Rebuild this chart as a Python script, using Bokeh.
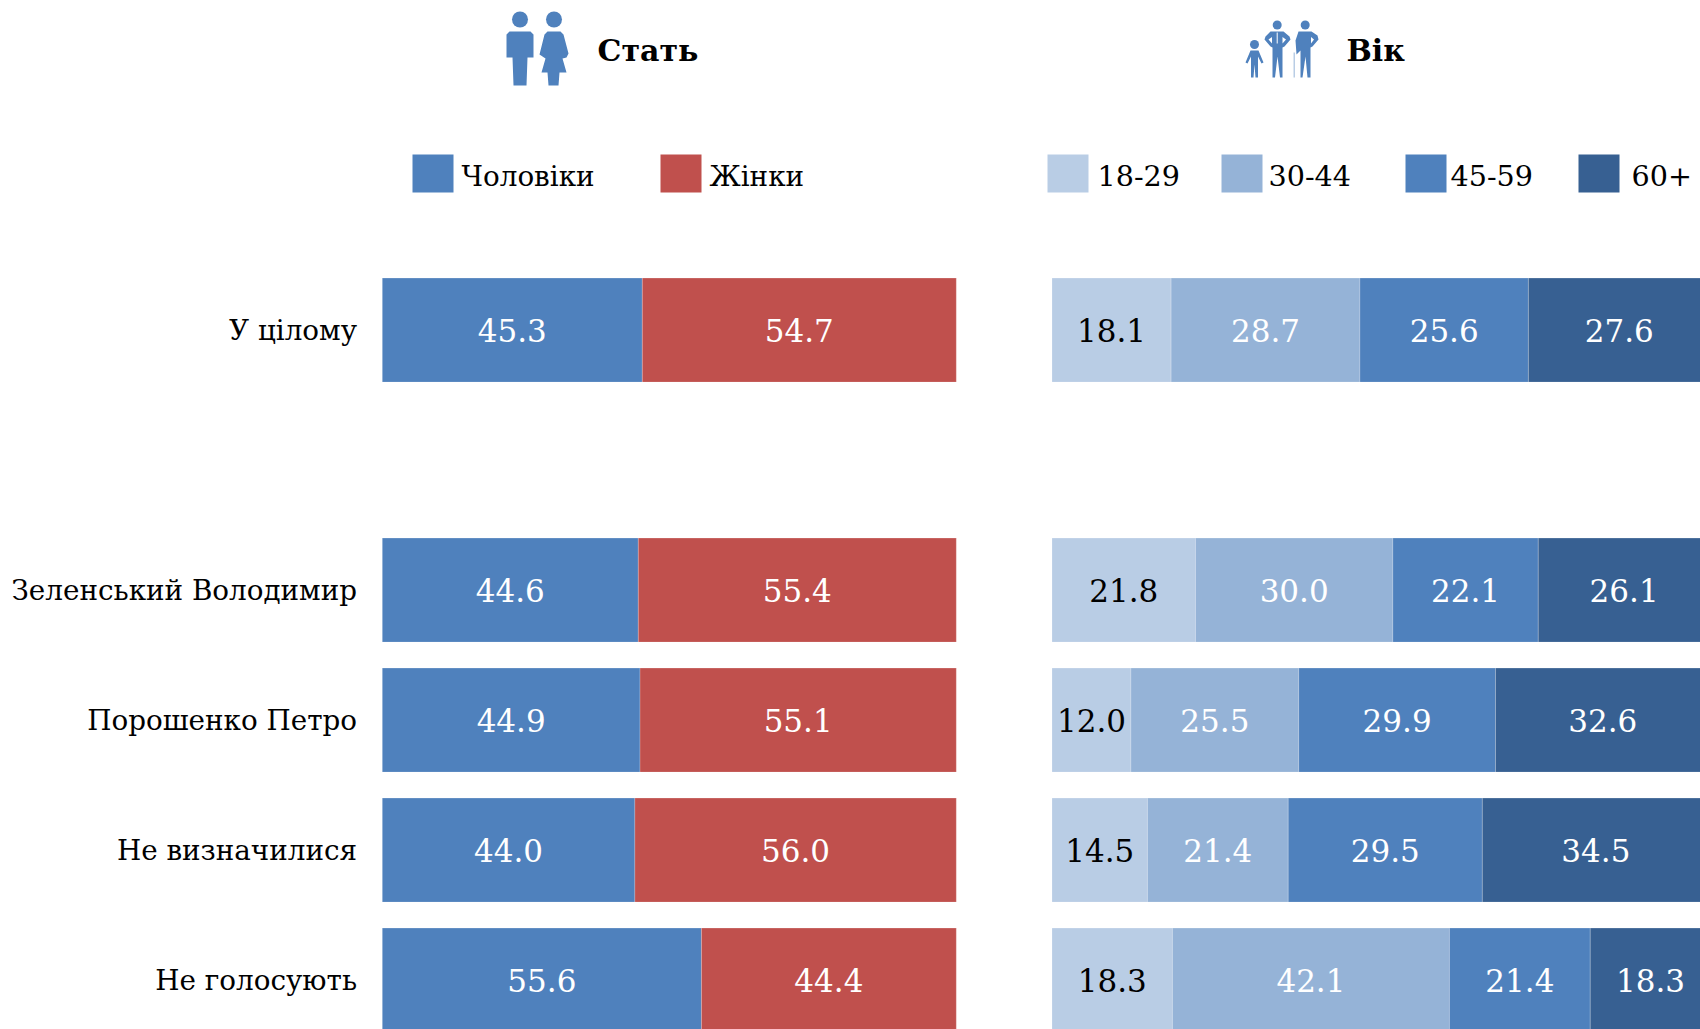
from bokeh.plotting import figure
from bokeh.models import Range1d
from bokeh.core.properties import value
from bokeh.embed import file_html
from bokeh.resources import INLINE

# ---- data ----
rows = ["У цілому", "Зеленський Володимир", "Порошенко Петро", "Не визначилися", "Не голосують"]
row_pos = [0, 2, 3, 4, 5]
men = [45.3, 44.6, 44.9, 44.0, 55.6]
women = [54.7, 55.4, 55.1, 56.0, 44.4]
age_18_29 = [18.1, 21.8, 12.0, 14.5, 18.3]
age_30_44 = [28.7, 30.0, 25.5, 21.4, 42.1]
age_45_59 = [25.6, 22.1, 29.9, 29.5, 21.4]
age_60 = [27.6, 26.1, 32.6, 34.5, 18.3]
gender_names = ["Чоловіки", "Жінки"]
age_names = ["18-29", "30-44", "45-59", "60+"]
titles = ["Стать", "Вік"]

C_MEN, C_WOMEN = "#4F81BD", "#C0504D"
C_AGE = ["#B9CDE5", "#95B3D7", "#4F81BD", "#376092"]
FONT = value("DejaVu Serif")
FS_NUM = "31px"
FS_ROW = "27.8px"
FS_LEG_TXT = "27.8px"
FS_LEG_NUM = "28.6px"
FS_TITLE = "30px"

W, H = 1700, 1029
G_X0, G_SCALE = 381.8, 5.74     # gender bars: page x of 0, px per percent
A_X0, A_SCALE = 1051.5, 6.58    # age bars
ROW0_Y, ROW_STEP = 329.6, 130   # page y of row 0, px per row
BAR_H = 104 / 130

p = figure(width=W, height=H, output_backend="svg", toolbar_location=None,
           x_range=Range1d(-G_X0 / G_SCALE, (W - G_X0) / G_SCALE),
           y_range=Range1d((H - ROW0_Y) / ROW_STEP, -ROW0_Y / ROW_STEP),
           min_border=0, outline_line_color=None, x_axis_location=None, y_axis_location=None)
p.grid.visible = False
p.extra_x_ranges["age"] = Range1d(-A_X0 / A_SCALE, (W - A_X0) / A_SCALE)
p.extra_x_ranges["px"] = Range1d(0, W)
p.extra_y_ranges["px"] = Range1d(H, 0)

EDGE = dict(line_color="white", line_alpha=0.2, line_width=1)


def stack(series, colors, text_colors, x_range_name="default"):
    left = [0.0] * len(row_pos)
    for vals, col, tcols in zip(series, colors, text_colors):
        right = [a + b for a, b in zip(left, vals)]
        p.hbar(y=row_pos, left=left, right=right, height=BAR_H, fill_color=col,
               x_range_name=x_range_name, **EDGE)
        mid = [(a + b) / 2 for a, b in zip(left, right)]
        p.text(x=mid, y=row_pos, text=[f"{v:.1f}" for v in vals], text_color=tcols,
               text_align="center", text_baseline="middle", text_font=FONT,
               text_font_size=FS_NUM, x_range_name=x_range_name)
        left = right


stack([men, women], [C_MEN, C_WOMEN], ["white", "white"])
stack([age_18_29, age_30_44, age_45_59, age_60], C_AGE,
      ["black", "white", "white", "white"], "age")

# row labels
p.text(x=[-4.4] * len(rows), y=row_pos, text=rows, text_align="right", text_baseline="middle",
       text_color="black", text_font=FONT, text_font_size=FS_ROW)

PXR = dict(x_range_name="px", y_range_name="px")


def swatch(x, col):
    p.quad(left=[x], right=[x + 41], top=[154], bottom=[192], fill_color=col, line_color=None, **PXR)


def label(x, y, s, size, **kw):
    args = dict(text_align="left", text_baseline="middle", text_color="black", text_font=FONT,
                text_font_size=size)
    args.update(kw)
    p.text(x=[x], y=[y], text=[s], **args, **PXR)


for x, tx, name, col in zip([412, 660], [461, 709], gender_names, [C_MEN, C_WOMEN]):
    swatch(x, col)
    label(tx, 175.5, name, FS_LEG_TXT)
for x, tx, name, col in zip([1047, 1221, 1405, 1578], [1097, 1268, 1450, 1631], age_names, C_AGE):
    swatch(x, col)
    label(tx, 175, name, FS_LEG_NUM)

label(597, 50, titles[0], FS_TITLE, text_font_style="bold")
label(1346, 50, titles[1], FS_TITLE, text_font_style="bold")

# ---- decorative icons ----
IC = C_MEN


def head(x, y, r):
    p.circle(x=[x], y=[y], radius=r, radius_units="data", fill_color=IC, line_color=None, **PXR)


def shape(xs, ys, col=IC):
    p.patch(x=xs, y=ys, fill_color=col, line_color=None, **PXR)


# man / woman
head(519.5, 19, 8)
head(553.5, 19, 8)
shape([509, 530, 533, 533, 527, 526, 513, 512, 506, 506],
      [31, 31, 34, 57, 57, 85, 85, 57, 57, 34])
shape([547, 560, 563, 568, 566, 562, 566, 559, 558, 548, 547, 541, 545, 539, 544],
      [31, 31, 34, 53, 57, 58, 72, 72, 85, 85, 72, 72, 58, 54, 34])

# child / man / old man
head(1254, 44, 4.5)
head(1276.7, 24.5, 4.5)
head(1304.7, 24.5, 4.5)
shape([1250, 1258, 1263, 1261, 1257.5, 1257.5, 1255, 1254, 1253, 1250.5, 1250.5, 1247, 1245],
      [50, 50, 62, 63, 56, 77, 77, 64, 77, 77, 56, 63, 62])
shape([1270, 1283, 1289, 1290, 1284, 1282, 1282, 1279.5, 1277, 1274.5, 1272, 1272, 1270, 1264, 1265],
      [31, 31, 36, 39, 46, 47, 77, 77, 56, 77, 77, 47, 46, 39, 36])
shape([1298, 1311, 1317, 1318, 1312, 1310, 1310, 1307, 1305, 1302, 1300, 1300, 1296, 1295],
      [31, 31, 35, 39, 46, 47, 77, 77, 56, 77, 77, 50, 54, 40])
shape([1293, 1294.5, 1294.5, 1293], [52, 52, 77, 77], C_AGE[0])
# tie and arm gaps
for xs, ys in [([1276.2, 1277.2, 1277.2, 1276.2], [32, 32, 43, 43]),
               ([1268, 1271.5, 1271.5], [39, 36.5, 43]),
               ([1285.5, 1282, 1282], [39, 36.5, 43]),
               ([1313.5, 1310.5, 1310.5], [39, 36.5, 43])]:
    shape(xs, ys, "white")

open("out.html", "w").write(file_html(p, INLINE))
